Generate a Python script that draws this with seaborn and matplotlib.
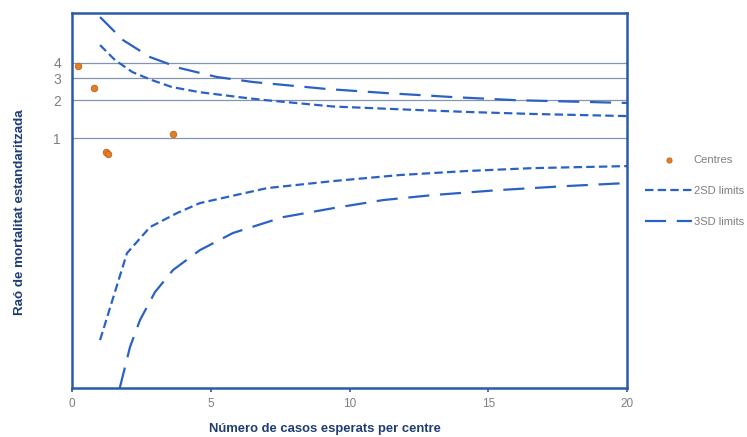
import seaborn as sns
import matplotlib.pyplot as plt

# Centres (casos esperats, raó de mortalitat estandarditzada)
centres_x = [0.22, 0.79, 1.23, 1.30, 3.64]
centres_y = [3.77, 2.51, 0.77, 0.745, 1.08]

# Límits 2SD
sup2_x = [1.01, 1.55, 2.18, 2.88, 3.6, 4.6, 6.3, 7.0, 9.4, 11.8, 14.2, 16.6, 20.0]
sup2_y = [5.55, 4.21, 3.37, 2.91, 2.56, 2.33, 2.09, 2.01, 1.79, 1.70, 1.62, 1.56, 1.50]
inf2_x = [1.01, 1.98, 2.81, 3.78, 4.61, 7.03, 9.41, 11.8, 14.2, 16.6, 20.0]
inf2_y = [0.0242, 0.120, 0.194, 0.251, 0.302, 0.398, 0.453, 0.506, 0.545, 0.575, 0.597]

# Límits 3SD
sup3_x = [1.01, 1.84, 2.81, 3.89, 5.23, 6.52, 9.19, 11.35, 13.7, 16.0, 20.0]
sup3_y = [9.3, 6.08, 4.45, 3.63, 3.08, 2.81, 2.47, 2.29, 2.13, 2.01, 1.91]
inf3_x = [1.72, 2.09, 2.45, 2.99, 3.64, 4.61, 5.80, 7.60, 9.41, 11.2, 13.0, 15.4, 17.8, 20.0]
inf3_y = [0.0100, 0.0213, 0.035, 0.0586, 0.088, 0.127, 0.174, 0.233, 0.275, 0.319,
          0.350, 0.384, 0.413, 0.437]

ref_lines = [1, 2, 3, 4]
x_ticks = [0, 5, 10, 15, 20]

blau = '#2a62c4'
vora = '#2a5aa8'
taronja = '#e47e22'
gris = '#7f7f7f'
curt = (0, (3.8, 1.9))
llarg = (0, (9.5, 4.8))

sns.set_style('white')
plt.rcParams['font.family'] = ['Liberation Sans', 'DejaVu Sans']

fig = plt.figure(figsize=(7.47, 4.37), dpi=100)
ax = fig.add_axes([0.0964, 0.112, 0.743, 0.858])

for v in ref_lines:
    ax.axhline(v, color='#8495b2', lw=0.9, zorder=1)

sns.lineplot(x=sup2_x, y=sup2_y, ax=ax, color=blau, lw=1.6, linestyle=curt,
             estimator=None, label='2SD limits')
sns.lineplot(x=inf2_x, y=inf2_y, ax=ax, color=blau, lw=1.6, linestyle=curt,
             estimator=None)
sns.lineplot(x=sup3_x, y=sup3_y, ax=ax, color=blau, lw=1.6, linestyle=llarg,
             estimator=None, label='3SD limits')
sns.lineplot(x=inf3_x, y=inf3_y, ax=ax, color=blau, lw=1.6, linestyle=llarg,
             estimator=None)
sns.scatterplot(x=centres_x, y=centres_y, ax=ax, color=taronja, s=22,
                edgecolor='#c0601a', linewidth=0.6, zorder=5, label='Centres')

ax.set_yscale('log')
ax.set_ylim(0.01, 10)
ax.set_xlim(0, 20)
ax.set_yticks(ref_lines)
ax.set_yticklabels([str(v) for v in ref_lines])
ax.yaxis.set_minor_locator(plt.NullLocator())
ax.set_xticks(x_ticks)
ax.tick_params(axis='y', length=0, labelsize=10, labelcolor=gris, pad=8)
ax.tick_params(axis='x', length=3, width=1.2, color=vora, direction='out',
               labelsize=8.5, labelcolor=gris, pad=4, bottom=True)

for s in ax.spines.values():
    s.set_color(vora)
    s.set_linewidth(1.8)

ax.set_xlabel('Número de casos esperats per centre', fontsize=9.4, fontweight='bold',
              color='#1f3d73')
ax.set_ylabel('Raó de mortalitat estandaritzada', fontsize=9.6, fontweight='bold',
              color='#1f3d73')
ax.xaxis.set_label_coords(0.456, -0.093)
ax.yaxis.set_label_coords(-0.083, 0.47)

handles, labels = ax.get_legend_handles_labels()
ordre = ['Centres', '2SD limits', '3SD limits']
handles = [handles[labels.index(l)] for l in ordre]
ax.legend(handles, ordre, loc='center left', bbox_to_anchor=(1.0137, 0.525),
          frameon=False, fontsize=8, labelcolor=gris, handlelength=4.3,
          handletextpad=0.1, labelspacing=1.9, markerscale=0.8)

plt.savefig('out.png', dpi=100)
